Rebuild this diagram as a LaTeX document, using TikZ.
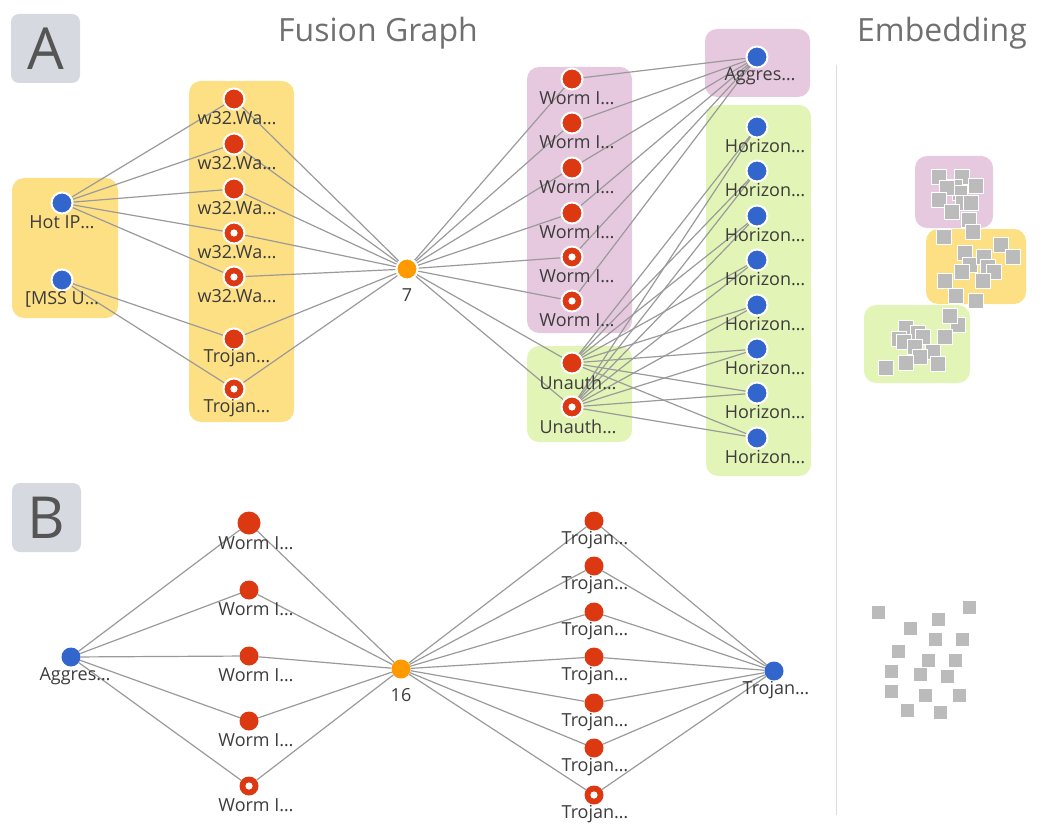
\documentclass[tikz,border=0pt]{standalone}
\usepackage{fontspec}
\setmainfont{Open Sans}
\definecolor{nred}{HTML}{DC3912}
\definecolor{nblue}{HTML}{3366CC}
\definecolor{norange}{HTML}{FF9900}
\definecolor{gyel}{HTML}{FEE084}
\definecolor{gpur}{HTML}{E7C9DF}
\definecolor{ggrn}{HTML}{E3F5B6}
\definecolor{egray}{HTML}{9A9A9A}
\definecolor{txt}{HTML}{3C3C3C}
\definecolor{ttl}{HTML}{707070}
\definecolor{tagbg}{HTML}{D6D9E0}
\definecolor{tagtxt}{HTML}{555555}
\definecolor{sqgray}{HTML}{BBBBBB}
\definecolor{sepgray}{HTML}{DDDDDD}
\pgfdeclarelayer{bg}
\pgfdeclarelayer{edgelayer}
\pgfsetlayers{bg,edgelayer,main}
\tikzset{
  vtx/.style={circle, fill=#1, draw=white, line width=2pt, minimum size=21pt, inner sep=0pt},
  redv/.style={vtx=nred},
  bluev/.style={vtx=nblue},
  ringvtx/.style={vtx=nred, path picture={\fill[white] (path picture bounding box.center) circle (3.6pt);}},
  vtxb/.style={circle, fill=#1, minimum size=19pt, inner sep=0pt},
  redb/.style={vtxb=nred},
  ringb/.style={vtxb=nred, path picture={\fill[white] (path picture bounding box.center) circle (3.6pt);}},
  lab/.style={text=txt, font=\fontsize{18}{18}\selectfont, inner sep=0pt, anchor=center},
  edge/.style={draw=egray, line width=1.2pt},
  grp/.style={fill=#1, rounded corners=12pt},
  tag/.style={fill=tagbg, rounded corners=8pt},
  tagtext/.style={text=tagtxt, font=\fontsize{58}{58}\selectfont, inner sep=0pt},
  title/.style={text=ttl, font=\fontsize{32}{32}\selectfont, inner sep=0pt},
  sq/.style={fill=sqgray, draw=white, line width=1.3pt},
  sqb/.style={fill=sqgray},
}
\begin{document}
\begin{tikzpicture}[x=1pt,y=-1pt]
\useasboundingbox (0,0) rectangle (1042,832);

% ---------- backgrounds ----------
\begin{pgfonlayer}{bg}
  \fill[tag] (11,14) rectangle (80,83);
  \fill[tag] (12,483) rectangle (81,552);
  \fill[grp=gyel] (12,178) rectangle (118,318);
  \fill[grp=gyel] (189,81) rectangle (294,422);
  \fill[grp=gpur] (527,67) rectangle (632,333);
  \fill[grp=ggrn] (527,346) rectangle (632,442);
  \fill[grp=gpur] (705,29) rectangle (810,97);
  \fill[grp=ggrn] (706,105) rectangle (811,476);
  \draw[sepgray, line width=1pt] (836,65) -- (836,815);
  % embedding groups
  \fill[grp=gpur] (915,156) rectangle (993,228);
  \fill[grp=gyel] (926,229) rectangle (1026,304);
  \fill[grp=ggrn] (864,305) rectangle (970,383);
\end{pgfonlayer}

\node[tagtext] (tagA) at (45.5,49) {A};
\node[tagtext] (tagB) at (46.5,518) {B};
\node[title] (tfusion) at (378,33) {Fusion Graph};
\node[title] (tembed) at (942,33) {Embedding};

% ---------- panel A nodes ----------
\node[bluev] (hot) at (62,203) {};
\node[lab] (lhot) at (62,222.5) {Hot IP…};
\node[bluev] (mss) at (62,280) {};
\node[lab] (lmss) at (62,299.5) {[MSS U…};

\foreach \i/\y/\s/\t in {1/99/redv/w32.Wa…, 2/144/redv/w32.Wa…, 3/189/redv/w32.Wa…,
                         4/233/ringvtx/w32.Wa…, 5/277/ringvtx/w32.Wa…,
                         6/339/redv/Trojan…, 7/389/ringvtx/Trojan…}{
  \node[\s] (c\i) at (234,\y) {};
  \node[lab] (lc\i) at (237,\y+19.5) {\t};
}

\node[vtx=norange] (seven) at (407,269) {};
\node[lab] (lseven) at (407,295) {7};

\foreach \i/\y/\s in {1/79/redv, 2/123/redv, 3/168/redv, 4/213/redv, 5/257/ringvtx, 6/301/ringvtx}{
  \node[\s] (m\i) at (572,\y) {};
  \node[lab] (lm\i) at (577,\y+19.5) {Worm I…};
}
\node[redv] (u1) at (572,363) {};
\node[lab] (lu1) at (578,382.5) {Unauth…};
\node[ringvtx] (u2) at (572,407) {};
\node[lab] (lu2) at (578,426.5) {Unauth…};

\node[bluev] (ag) at (757,57) {};
\node[lab] (lag) at (760,76) {Aggres…};
\foreach \i/\y in {1/127,2/171,3/216,4/260,5/305,6/349,7/393,8/438}{
  \node[bluev] (h\i) at (757,\y) {};
  \node[lab] (lh\i) at (765,\y+19.5) {Horizon…};
}

% ---------- panel A edges ----------
\begin{pgfonlayer}{edgelayer}
  \foreach \i in {1,...,5}{\draw[edge] (hot) -- (c\i);}
  \draw[edge] (mss) -- (c6);
  \draw[edge] (mss) -- (c7);
  \foreach \i in {1,...,7}{\draw[edge] (c\i) -- (seven);}
  \foreach \i in {1,...,6}{\draw[edge] (seven) -- (m\i); \draw[edge] (m\i) -- (ag);}
  \draw[edge] (seven) -- (u1);
  \draw[edge] (seven) -- (u2);
  \foreach \i in {1,...,8}{\draw[edge] (u1) -- (h\i); \draw[edge] (u2) -- (h\i);}
\end{pgfonlayer}

% ---------- panel B ----------
\node[vtxb=nblue] (bag) at (71,657) {};
\node[lab] (lbag) at (75,676.5) {Aggres…};
\node[vtxb=nred, minimum size=23pt] (bw1) at (249,523) {};
\node[lab] (lbw1) at (256,543) {Worm I…};
\foreach \i/\y/\s in {2/590/redb, 3/656/redb, 4/721/redb, 5/786/ringb}{
  \node[\s] (bw\i) at (249,\y) {};
  \node[lab] (lbw\i) at (256,\y+19.5) {Worm I…};
}
\node[vtxb=norange] (b16) at (401,669) {};
\node[lab] (lb16) at (401,695) {16};
\foreach \i/\y/\s in {1/521/redb, 2/566/redb, 3/612/redb, 4/657/redb, 5/703/redb, 6/748/redb, 7/795/ringb}{
  \node[\s] (bt\i) at (594,\y) {};
  \node[lab] (lbt\i) at (595,\y+19.5) {Trojan…};
}
\node[vtxb=nblue] (bT) at (774,671) {};
\node[lab] (lbT) at (776,690.5) {Trojan…};

\begin{pgfonlayer}{edgelayer}
  \foreach \i in {1,...,5}{\draw[edge] (bag) -- (bw\i); \draw[edge] (bw\i) -- (b16);}
  \foreach \i in {1,...,7}{\draw[edge] (b16) -- (bt\i); \draw[edge] (bt\i) -- (bT);}
\end{pgfonlayer}

% ---------- embedding squares (clustered) ----------
\foreach \x/\y in {939.3/177.3, 962/177.3, 976/185.7, 955/186.7, 960/193.3, 946.7/188.3,
                   939.3/200, 963.3/202.7, 970.7/203.3, 951.7/211.7, 968.7/220, 972.7/231.7,
                   944/237.3, 1001/245.3, 1012.7/257.3, 965/252.7, 970/265, 984/256.7, 988.3/266.7,
                   962/272.3, 994/272.3, 945/280.7, 982.7/280.7, 956/296, 976/300.7,
                   958.3/325, 950/315.7, 906/328.3, 918.3/332.7, 922.7/336.7, 899.3/339.3, 904/342,
                   945/336.7, 915/346.7, 932.7/351.7, 920/356.7, 906/363.3, 937.7/364.3, 886/368.3}{
  \filldraw[sq] (\x-7.5,\y-7.5) rectangle (\x+7.5,\y+7.5);
}
% ---------- embedding squares (spread) ----------
\foreach \x/\y in {878/612.3, 969.3/607.3, 938.3/619.3, 910.3/628.3, 935.3/639.7, 962.3/639.3,
                   898.3/651.3, 928.3/660.3, 955.3/660.3, 891.3/671.3, 920.3/674.3, 947.3/676.3,
                   891.3/691.3, 925.3/695.3, 959/695.3, 907.3/710.3, 940.3/712.3}{
  \fill[sqb] (\x-6.5,\y-6.5) rectangle (\x+6.5,\y+6.5);
}
\end{tikzpicture}
\end{document}
